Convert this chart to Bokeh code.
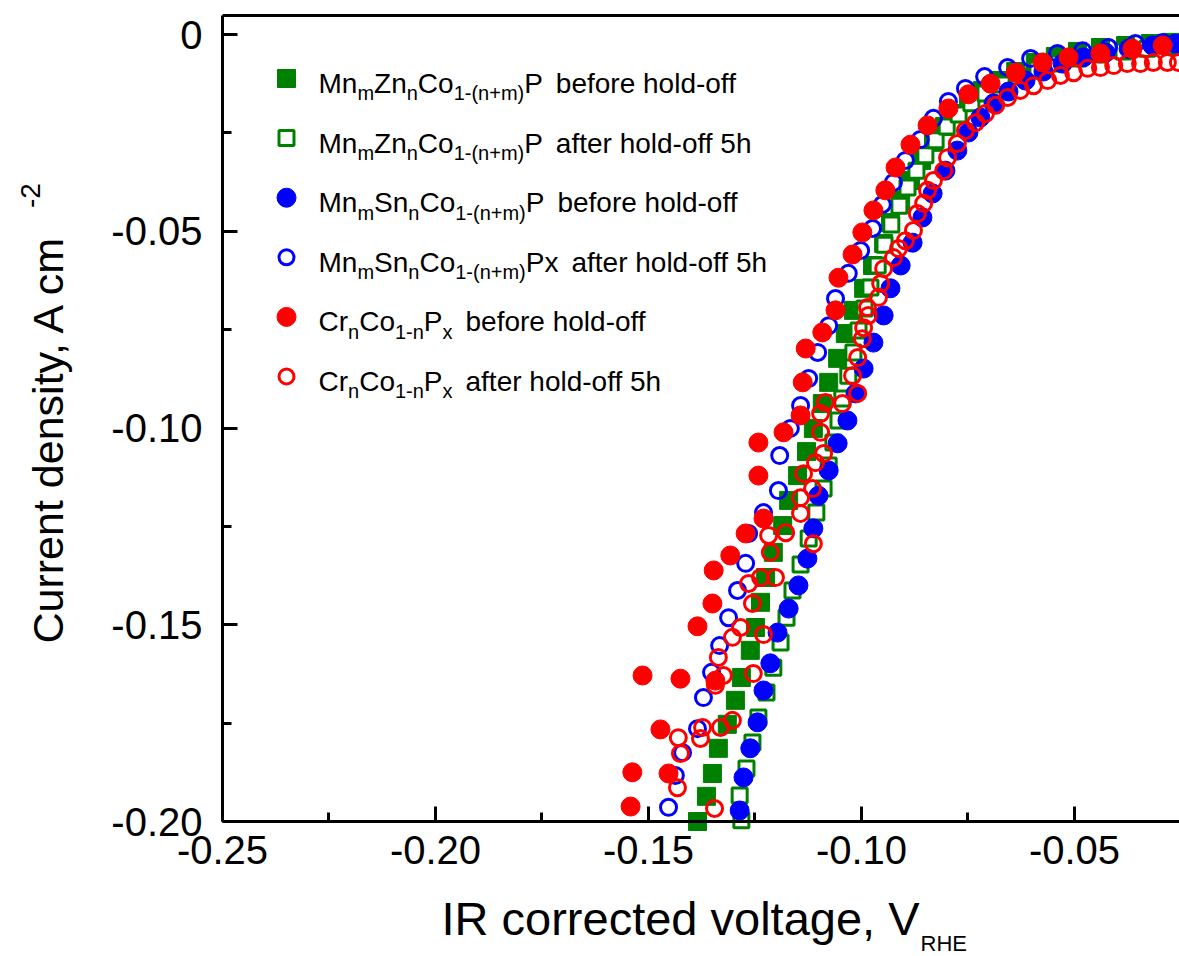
import math
from bokeh.plotting import figure
from bokeh.models import Range1d, FixedTicker, LinearAxis, Label, NumeralTickFormatter
from bokeh.embed import file_html
from bokeh.resources import INLINE

# ---------------- data (voltage V_RHE, current density A cm^-2) ----------------
mnzn_before = [(-0.1385,-0.2000),(-0.1364,-0.1936),(-0.1350,-0.1878),(-0.1336,-0.1814),(-0.1315,-0.1753),
    (-0.1296,-0.1692),(-0.1282,-0.1634),(-0.1261,-0.1565),(-0.1249,-0.1507),(-0.1237,-0.1443),(-0.1225,-0.1380),
    (-0.1207,-0.1316),(-0.1185,-0.1248),(-0.1171,-0.1184),(-0.1150,-0.1121),(-0.1129,-0.1060),(-0.1113,-0.1001),
    (-0.1092,-0.0938),(-0.1077,-0.0884),(-0.1056,-0.0823),(-0.1038,-0.0760),(-0.1019,-0.0701),(-0.0995,-0.0645),
    (-0.0974,-0.0587),(-0.0948,-0.0531),(-0.0932,-0.0478),(-0.0908,-0.0422),(-0.0885,-0.0371),(-0.0859,-0.0320),
    (-0.0831,-0.0274),(-0.0805,-0.0234),(-0.0777,-0.0201),(-0.0749,-0.0170),(-0.0716,-0.0142),(-0.0678,-0.0117),
    (-0.0638,-0.0094),(-0.0592,-0.0071),(-0.0545,-0.0056),(-0.0493,-0.0043),(-0.0439,-0.0033),(-0.0380,-0.0028),
    (-0.0322,-0.0023),(-0.0270,-0.0020)]

mnzn_after = [(-0.1282,-0.1997),(-0.1286,-0.1934),(-0.1270,-0.1865),(-0.1256,-0.1799),(-0.1242,-0.1736),
    (-0.1223,-0.1672),(-0.1207,-0.1609),(-0.1190,-0.1545),(-0.1176,-0.1482),(-0.1162,-0.1413),(-0.1143,-0.1347),
    (-0.1124,-0.1281),(-0.1106,-0.1215),(-0.1089,-0.1154),(-0.1077,-0.1095),(-0.1066,-0.1037),(-0.1054,-0.0981),
    (-0.1045,-0.0925),(-0.1031,-0.0867),(-0.1019,-0.0808),(-0.1007,-0.0752),(-0.0993,-0.0696),(-0.0979,-0.0643),
    (-0.0962,-0.0587),(-0.0946,-0.0534),(-0.0930,-0.0483),(-0.0911,-0.0435),(-0.0892,-0.0389),(-0.0871,-0.0346),
    (-0.0850,-0.0307),(-0.0826,-0.0269),(-0.0800,-0.0234),(-0.0772,-0.0203),(-0.0742,-0.0175),(-0.0709,-0.0150),
    (-0.0671,-0.0127),(-0.0631,-0.0107),(-0.0587,-0.0089),(-0.0540,-0.0074),(-0.0491,-0.0061),(-0.0439,-0.0051),
    (-0.0385,-0.0043),(-0.0329,-0.0036),(-0.0275,-0.0030)]

mnsn_before = [(-0.1286,-0.1972),(-0.1277,-0.1888),(-0.1261,-0.1814),(-0.1244,-0.1748),(-0.1230,-0.1667),
    (-0.1214,-0.1598),(-0.1197,-0.1520),(-0.1171,-0.1459),(-0.1148,-0.1400),(-0.1127,-0.1332),(-0.1113,-0.1255),
    (-0.1101,-0.1172),(-0.1077,-0.1108),(-0.1056,-0.1039),(-0.1033,-0.0981),(-0.1014,-0.0912),(-0.0995,-0.0849),
    (-0.0972,-0.0783),(-0.0948,-0.0714),(-0.0932,-0.0645),(-0.0908,-0.0587),(-0.0880,-0.0529),(-0.0857,-0.0465),
    (-0.0833,-0.0404),(-0.0803,-0.0346),(-0.0775,-0.0295),(-0.0749,-0.0249),(-0.0721,-0.0211),(-0.0690,-0.0175),
    (-0.0655,-0.0145),(-0.0615,-0.0117),(-0.0573,-0.0094),(-0.0528,-0.0074),(-0.0479,-0.0058),(-0.0427,-0.0046),
    (-0.0373,-0.0036),(-0.0317,-0.0028),(-0.0263,-0.0023)]

mnsn_after = [(-0.1453,-0.1964),(-0.1437,-0.1883),(-0.1420,-0.1825),(-0.1385,-0.1764),(-0.1371,-0.1685),
    (-0.1352,-0.1621),(-0.1333,-0.1553),(-0.1312,-0.1482),(-0.1291,-0.1413),(-0.1272,-0.1344),(-0.1265,-0.1268),
    (-0.1230,-0.1215),(-0.1195,-0.1159),(-0.1192,-0.1070),(-0.1167,-0.1001),(-0.1143,-0.0943),(-0.1124,-0.0874),
    (-0.1103,-0.0808),(-0.1077,-0.0740),(-0.1061,-0.0671),(-0.1031,-0.0607),(-0.1002,-0.0549),(-0.0974,-0.0493),
    (-0.0951,-0.0432),(-0.0925,-0.0376),(-0.0897,-0.0320),(-0.0862,-0.0267),(-0.0831,-0.0213),(-0.0796,-0.0170),
    (-0.0756,-0.0137),(-0.0711,-0.0107),(-0.0657,-0.0084),(-0.0603,-0.0061),(-0.0540,-0.0048),(-0.0481,-0.0041),
    (-0.0420,-0.0033),(-0.0357,-0.0023),(-0.0293,-0.0020)]

cr_before = [(-0.1542,-0.1962),(-0.1538,-0.1875),(-0.1453,-0.1878),(-0.1472,-0.1766),(-0.1514,-0.1629),
    (-0.1425,-0.1637),(-0.1343,-0.1642),(-0.1385,-0.1504),(-0.1350,-0.1446),(-0.1347,-0.1362),(-0.1308,-0.1324),
    (-0.1272,-0.1268),(-0.1230,-0.1230),(-0.1242,-0.1121),(-0.1242,-0.1037),(-0.1183,-0.1011),(-0.1143,-0.0968),
    (-0.1138,-0.0884),(-0.1131,-0.0798),(-0.1092,-0.0757),(-0.1061,-0.0701),(-0.1054,-0.0618),(-0.1021,-0.0559),
    (-0.0998,-0.0503),(-0.0972,-0.0447),(-0.0944,-0.0396),(-0.0920,-0.0338),(-0.0885,-0.0280),(-0.0845,-0.0231),
    (-0.0796,-0.0188),(-0.0749,-0.0152),(-0.0697,-0.0125),(-0.0638,-0.0097),(-0.0575,-0.0071),(-0.0514,-0.0058),
    (-0.0439,-0.0048),(-0.0364,-0.0036),(-0.0293,-0.0028)]

cr_after = [(-0.1345,-0.1967),(-0.1432,-0.1914),(-0.1425,-0.1827),(-0.1430,-0.1787),(-0.1378,-0.1789),
    (-0.1373,-0.1761),(-0.1331,-0.1761),(-0.1303,-0.1743),(-0.1343,-0.1654),(-0.1324,-0.1629),(-0.1254,-0.1624),
    (-0.1336,-0.1583),(-0.1303,-0.1532),(-0.1284,-0.1507),(-0.1230,-0.1525),(-0.1256,-0.1446),(-0.1265,-0.1395),
    (-0.1237,-0.1380),(-0.1202,-0.1380),(-0.1214,-0.1316),(-0.1218,-0.1273),(-0.1178,-0.1266),(-0.1113,-0.1294),
    (-0.1143,-0.1217),(-0.1143,-0.1177),(-0.1115,-0.1154),(-0.1136,-0.1116),(-0.1108,-0.1088),(-0.1089,-0.1065),
    (-0.1096,-0.1011),(-0.1096,-0.0963),(-0.1085,-0.0935),(-0.1045,-0.0938),(-0.1009,-0.0912),(-0.1021,-0.0867),
    (-0.1009,-0.0821),(-0.0998,-0.0773),(-0.0995,-0.0745),(-0.0984,-0.0714),(-0.0986,-0.0694),(-0.0960,-0.0668),
    (-0.0955,-0.0633),(-0.0948,-0.0595),(-0.0925,-0.0567),(-0.0913,-0.0544),(-0.0897,-0.0524),(-0.0878,-0.0498),
    (-0.0869,-0.0455),(-0.0854,-0.0429),(-0.0845,-0.0396),(-0.0831,-0.0371),(-0.0807,-0.0346),(-0.0798,-0.0313),
    (-0.0775,-0.0277),(-0.0756,-0.0244),(-0.0732,-0.0224),(-0.0709,-0.0201),(-0.0685,-0.0180),(-0.0657,-0.0160),
    (-0.0627,-0.0142),(-0.0596,-0.0130),(-0.0563,-0.0117),(-0.0533,-0.0104),(-0.0502,-0.0097),(-0.0469,-0.0086),
    (-0.0439,-0.0084),(-0.0408,-0.0079),(-0.0376,-0.0074),(-0.0345,-0.0074),(-0.0315,-0.0071),(-0.0282,-0.0071),
    (-0.0256,-0.0071)]

x_ticks = [-0.25, -0.20, -0.15, -0.10, -0.05]
x_minor_ticks = [-0.225, -0.175, -0.125, -0.075]
y_ticks = [0.0, -0.05, -0.10, -0.15, -0.20]
y_minor_ticks = [-0.025, -0.075, -0.125, -0.175]
x_lim = (-0.25, -0.02535)
y_lim = (-0.20, 0.00483)

x_title = "IR corrected voltage, V"
x_title_sub = "RHE"
y_title = "Current density, A cm"
y_title_sup = "-2"

legend_rows = [
    [("Mn", 0), ("m", 1), ("Zn", 0), ("n", 1), ("Co", 0), ("1-(n+m)", 1), ("P", 0), ("before hold-off", 2)],
    [("Mn", 0), ("m", 1), ("Zn", 0), ("n", 1), ("Co", 0), ("1-(n+m)", 1), ("P", 0), ("after hold-off 5h", 2)],
    [("Mn", 0), ("m", 1), ("Sn", 0), ("n", 1), ("Co", 0), ("1-(n+m)", 1), ("P", 0), ("before hold-off", 2)],
    [("Mn", 0), ("m", 1), ("Sn", 0), ("n", 1), ("Co", 0), ("1-(n+m)", 1), ("Px", 0), ("after hold-off 5h", 2)],
    [("Cr", 0), ("n", 1), ("Co", 0), ("1-n", 1), ("P", 0), ("x", 1), ("before hold-off", 2)],
    [("Cr", 0), ("n", 1), ("Co", 0), ("1-n", 1), ("P", 0), ("x", 1), ("after hold-off 5h", 2)],
]

GREEN, BLUE, RED = "#008000", "#0000ff", "#ff0000"
FONT = "Liberation Sans"

# ---------------- layout geometry (pixels) ----------------
# The whole canvas is the frame; the axes are placed with fixed_location so that
# the axis box spans pixels 222..1179 horizontally and 15..821 vertically.
W_PX, H_PX = 1179, 956
FL, FT, FB = 222, 15, 821
PX_PER_X = (W_PX - FL) / (x_lim[1] - x_lim[0])
PX_PER_Y = (FB - FT) / (y_lim[1] - y_lim[0])
XS = x_lim[0] - FL / PX_PER_X
XE = x_lim[1]
YS = y_lim[0] - (H_PX - FB) / PX_PER_Y
YE = y_lim[1] + FT / PX_PER_Y

def dx(px):
    return XS + px / PX_PER_X

def dy(py):
    return YE - py / PX_PER_Y

# Arial / Liberation Sans advance widths (per 1000 em)
AW = {' ': 278, '-': 333, '(': 333, ')': 333, '+': 584, ',': 278, '.': 278, '0': 556, '1': 556, '2': 556,
      '5': 556, 'A': 667, 'C': 722, 'E': 667, 'H': 722, 'I': 278, 'M': 833, 'P': 667, 'R': 722, 'S': 667,
      'V': 667, 'Z': 611, 'a': 556, 'b': 556, 'c': 500, 'd': 556, 'e': 556, 'f': 278, 'g': 556, 'h': 556,
      'i': 222, 'l': 222, 'm': 833, 'n': 556, 'o': 556, 'r': 333, 's': 500, 't': 278, 'u': 556, 'v': 500,
      'x': 500, 'y': 500}

def tw(s, size):
    return sum(AW.get(c, 556) for c in s) / 1000.0 * size

p = figure(width=W_PX, height=H_PX, x_range=Range1d(XS, XE), y_range=Range1d(YS, YE),
           output_backend="svg", toolbar_location=None, x_axis_location=None, y_axis_location=None,
           min_border=0, min_border_left=0, min_border_right=0, min_border_top=0, min_border_bottom=0)
p.outline_line_color = None
p.xgrid.visible = False
p.ygrid.visible = False
p.background_fill_color = "white"
p.border_fill_color = "white"

def style_axis(ax):
    ax.axis_line_width = 3
    ax.axis_line_color = "black"
    ax.major_tick_in = 15
    ax.major_tick_out = 0
    ax.minor_tick_in = 9
    ax.minor_tick_out = 0
    ax.major_tick_line_width = 3
    ax.minor_tick_line_width = 3
    ax.major_label_text_font = FONT
    ax.major_label_text_font_size = "40px"
    ax.major_label_text_color = "black"
    ax.formatter = NumeralTickFormatter(format="0.00")

xaxis = LinearAxis(fixed_location=y_lim[0], bounds=x_lim,
                   ticker=FixedTicker(ticks=x_ticks, minor_ticks=x_minor_ticks))
style_axis(xaxis)
xaxis.major_label_standoff = 14
p.add_layout(xaxis, "below")

yaxis = LinearAxis(fixed_location=x_lim[0], bounds=y_lim,
                   ticker=FixedTicker(ticks=y_ticks, minor_ticks=y_minor_ticks))
style_axis(yaxis)
yaxis.major_label_standoff = 20
yaxis.major_label_overrides = {0.0: "0"}
p.add_layout(yaxis, "left")

top = LinearAxis(fixed_location=y_lim[1], bounds=x_lim, ticker=FixedTicker(ticks=[]),
                 axis_line_width=3, axis_line_color="black",
                 major_tick_line_color=None, minor_tick_line_color=None,
                 major_label_text_font_size="0px", major_label_standoff=0)
p.add_layout(top, "above")

def xs(d):
    return [a for a, b in d]

def ys(d):
    return [b for a, b in d]

# series (drawn in legend order)
p.scatter(xs(mnzn_before), ys(mnzn_before), marker="square", size=18, fill_color=GREEN, line_color=GREEN, line_width=1)
p.scatter(xs(mnzn_after), ys(mnzn_after), marker="square", size=15, fill_color="white", line_color=GREEN, line_width=3)
p.scatter(xs(mnsn_before), ys(mnsn_before), marker="circle", size=19, fill_color=BLUE, line_color=BLUE, line_width=1)
p.scatter(xs(mnsn_after), ys(mnsn_after), marker="circle", size=16, fill_color=None, line_color=BLUE, line_width=3)
p.scatter(xs(cr_before), ys(cr_before), marker="circle", size=19, fill_color=RED, line_color=RED, line_width=1)
p.scatter(xs(cr_after), ys(cr_after), marker="circle", size=16, fill_color=None, line_color=RED, line_width=3)

# ---------------- legend (manual, to allow subscripts) ----------------
LEG_MX, LEG_Y0, LEG_DY = 286, 78, 59.6
LEG_TX = 318
styles = [
    dict(marker="square", size=18, fill_color=GREEN, line_color=GREEN, line_width=1),
    dict(marker="square", size=15, fill_color="white", line_color=GREEN, line_width=3),
    dict(marker="circle", size=19, fill_color=BLUE, line_color=BLUE, line_width=1),
    dict(marker="circle", size=15, fill_color=None, line_color=BLUE, line_width=3),
    dict(marker="circle", size=19, fill_color=RED, line_color=RED, line_width=1),
    dict(marker="circle", size=15, fill_color=None, line_color=RED, line_width=3),
]
MAIN_SZ, SUB_SZ = 28, 20
BASE_FIX = 0.36  # empirical shift of the rendered alphabetic baseline

def add_text(text, px, py, size, angle=0.0):
    p.add_layout(Label(x=dx(px), y=dy(py), text=text, text_font=FONT, text_font_size=f"{size}px",
                       text_color="black", text_align="left", text_baseline="alphabetic", angle=angle))

for i, (row, st) in enumerate(zip(legend_rows, styles)):
    cy = LEG_Y0 + LEG_DY * i
    p.scatter([dx(LEG_MX)], [dy(cy)], **st)
    base = cy + 15
    x = LEG_TX
    for seg, kind in row:
        if kind == 2:
            x += 13
        size = SUB_SZ if kind == 1 else MAIN_SZ
        yb = base + 7 if kind == 1 else base
        add_text(seg, x, yb - BASE_FIX * size, size)
        x += tw(seg, size)

# ---------------- axis titles ----------------
XT_SZ, XS_SZ = 47, 22
xt_left, xt_base = 441, 935
add_text(x_title, xt_left, xt_base - BASE_FIX * XT_SZ, XT_SZ)
add_text(x_title_sub, xt_left + tw(x_title, XT_SZ) + 1, xt_base + 16 - BASE_FIX * XS_SZ, XS_SZ)

YT_SZ, YS_SZ = 43, 28
yt_base_x, yt_start = 63, 643
add_text(y_title, yt_base_x - BASE_FIX * YT_SZ, yt_start, YT_SZ, angle=math.pi / 2)
add_text(y_title_sup, yt_base_x - 23 - BASE_FIX * YS_SZ, yt_start - tw(y_title, YT_SZ) - 22, YS_SZ, angle=math.pi / 2)

open("out.html", "w").write(file_html(p, INLINE))
